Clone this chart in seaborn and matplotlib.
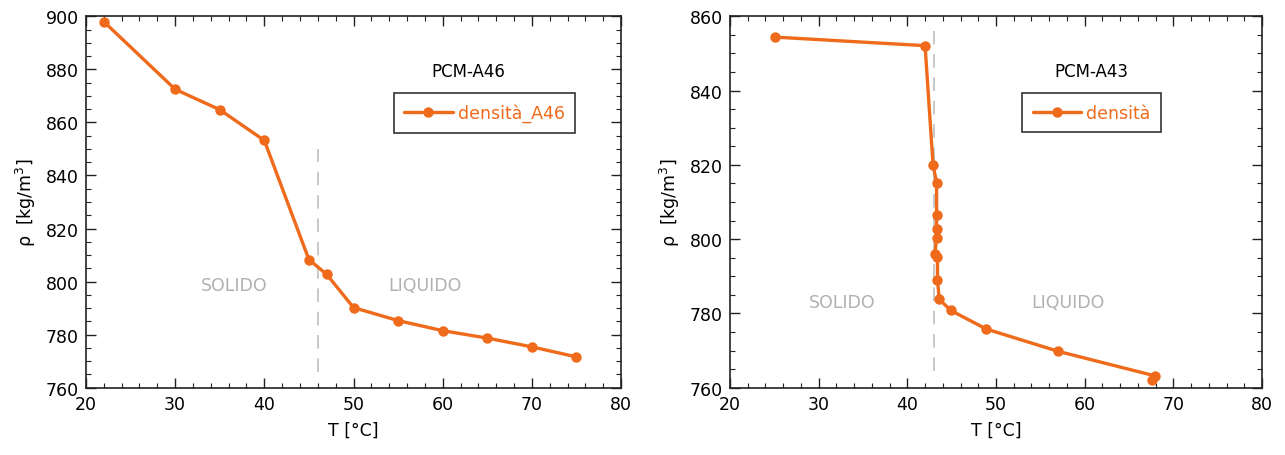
import numpy as np
import pandas as pd
import matplotlib
matplotlib.use("Agg")
import matplotlib.pyplot as plt
from matplotlib.ticker import MultipleLocator
import seaborn as sns

# PCM-A46 density vs temperature
t_a46 = [22, 30, 35, 40, 45, 47, 50, 55, 60, 65, 70, 75]
rho_a46 = [898.0, 872.5, 864.8, 853.2, 808.3, 802.7, 790.2, 785.3, 781.5, 778.7, 775.4, 771.6]

# PCM-A43 density vs temperature (measurement order)
t_a43 = [25.1, 42.0, 42.9, 43.3, 43.3, 43.3, 43.3, 43.1, 43.4, 43.4, 43.6, 44.9, 48.9, 57.0, 67.9, 67.6]
rho_a43 = [854.4, 852.1, 820.0, 815.2, 806.6, 802.7, 800.3, 796.0, 795.3, 789.0, 783.8, 780.8, 775.8, 769.8, 763.2, 762.0]

ORANGE = "#EF6A1A"
GRAY = "#B0B0B0"

sns.set_theme(style="white")
plt.rcParams["font.family"] = ["DejaVu Sans"]

fig = plt.figure(figsize=(12.85, 4.56), dpi=100)
ax1 = fig.add_axes([0.0669, 0.1476, 0.4164, 0.8144])
ax2 = fig.add_axes([0.5681, 0.1476, 0.4140, 0.8144])


def draw(ax, t, rho, label, title, ylim, ymajor, yminor, tmelt, vspan,
         solid_xy, liquid_xy, title_xy, leg_anchor):
    df = pd.DataFrame({"T": t, "rho": rho})
    sns.lineplot(data=df, x="T", y="rho", ax=ax, sort=False, estimator=None,
                 color=ORANGE, linewidth=2.4, marker="o", markersize=7.5,
                 markeredgewidth=0, label=label)
    ax.plot([tmelt, tmelt], vspan, color="#C8C8C8", linestyle=(0, (7, 5)),
            linewidth=1.4, zorder=1)
    ax.set_xlim(20, 80)
    ax.set_ylim(*ylim)
    ax.xaxis.set_major_locator(MultipleLocator(10))
    ax.xaxis.set_minor_locator(MultipleLocator(2))
    ax.yaxis.set_major_locator(MultipleLocator(ymajor))
    ax.yaxis.set_minor_locator(MultipleLocator(yminor))
    ax.tick_params(which="both", direction="in", top=True, right=True,
                   bottom=True, left=True, color="#222222", labelcolor="black")
    ax.tick_params(which="major", length=7, width=1.0, labelsize=12.5, pad=5)
    ax.tick_params(which="minor", length=3.5, width=0.8)
    for s in ax.spines.values():
        s.set_color("#222222")
        s.set_linewidth(1.2)
    ax.set_xlabel("T [°C]", fontsize=12.5, labelpad=6, color="black")
    ax.set_ylabel("ρ  [kg/m$^3$]", fontsize=12.5, labelpad=6, color="black")
    ax.text(*solid_xy, "SOLIDO", color=GRAY, fontsize=12.5, ha="center", va="center")
    ax.text(*liquid_xy, "LIQUIDO", color=GRAY, fontsize=12.5, ha="center", va="center")
    ax.text(*title_xy, title, color="black", fontsize=12, ha="center", va="center")
    leg = ax.legend(loc="center", bbox_to_anchor=leg_anchor, fontsize=12.5,
                    frameon=True, fancybox=False, handlelength=2.8,
                    borderpad=0.6, handletextpad=0.3)
    leg.get_frame().set_edgecolor("black")
    leg.get_frame().set_linewidth(1.2)
    for txt in leg.get_texts():
        txt.set_color(ORANGE)


draw(ax1, t_a46, rho_a46, "densità_A46", "PCM-A46", (760, 900), 20, 5, 46,
     (766, 850), (36.6, 798.7), (58.0, 798.7), (62.9, 879.5), (0.745, 0.740))
draw(ax2, t_a43, rho_a43, "densità", "PCM-A43", (760, 860), 20, 5, 43,
     (764.5, 856), (32.6, 783.0), (58.1, 783.0), (60.8, 845.2), (0.68, 0.740))

fig.savefig("out.png", dpi=100)
